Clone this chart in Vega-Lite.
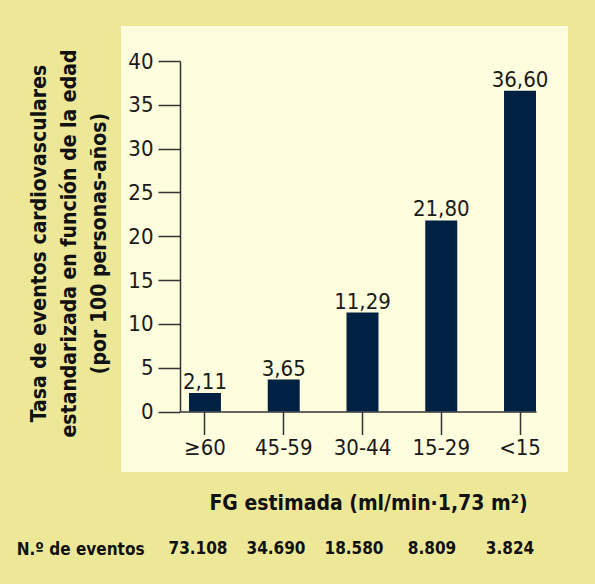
{
  "$schema": "https://vega.github.io/schema/vega-lite/v6.json",
  "width": 447,
  "height": 446,
  "autosize": {"type": "none"},
  "padding": {"left": 121, "top": 26, "right": 27, "bottom": 112},
  "background": "#EDE898",
  "config": {
    "view": {"fill": "#FEFDDD", "stroke": null},
    "font": "DejaVu Sans Condensed",
    "locale": {"number": {"decimal": ",", "thousands": ".", "grouping": [3], "currency": ["", " €"]}}
  },
  "data": {
    "values": [
      {"fg": "≥60", "tasa": 2.11, "eventos": 73108, "fila": "N.º de eventos"},
      {"fg": "45-59", "tasa": 3.65, "eventos": 34690, "fila": "N.º de eventos"},
      {"fg": "30-44", "tasa": 11.29, "eventos": 18580, "fila": "N.º de eventos"},
      {"fg": "15-29", "tasa": 21.80, "eventos": 8809, "fila": "N.º de eventos"},
      {"fg": "<15", "tasa": 36.60, "eventos": 3824, "fila": "N.º de eventos"}
    ]
  },
  "layer": [
    {
      "encoding": {
        "x": {
          "field": "fg", "type": "nominal", "sort": null,
          "scale": {"range": [59, 415], "paddingInner": 0.594, "paddingOuter": 0.057, "align": 1},
          "axis": {
            "orient": "bottom", "offset": -60.5, "labelAngle": 0,
            "domainColor": "#333333", "domainWidth": 1.5, "tickColor": "#333333", "tickWidth": 1.5, "tickSize": 23,
            "labelFontSize": 22, "labelColor": "#1a1a1a", "labelPadding": 3,
            "title": "FG estimada (ml/min·1,73 m²)", "titleFontSize": 21, "titleFontWeight": "bold", "titleColor": "#111111",
            "titleX": 247, "titleY": 98, "titleBaseline": "alphabetic", "titleAlign": "center"
          }
        },
        "y": {
          "field": "tasa", "type": "quantitative",
          "scale": {"domain": [0, 40], "range": [385.5, 35]},
          "axis": {
            "orient": "left", "offset": -59, "values": [0, 5, 10, 15, 20, 25, 30, 35, 40], "grid": false,
            "domainColor": "#333333", "domainWidth": 1.5, "tickColor": "#333333", "tickWidth": 1.5, "tickSize": 22,
            "labelFontSize": 22, "labelColor": "#1a1a1a", "labelPadding": 5,
            "title": ["Tasa de eventos cardiovasculares", "estandarizada en función de la edad", "(por 100 personas-años)"],
            "titleFontSize": 21, "titleFontWeight": "bold", "titleColor": "#111111", "titleLineHeight": 30,
            "titleAngle": -90, "titleX": -135, "titleY": 217, "titleBaseline": "alphabetic", "titleAlign": "center"
          }
        }
      },
      "layer": [
        {"mark": {"type": "bar", "color": "#002142"}},
        {
          "mark": {"type": "text", "baseline": "alphabetic", "dy": -4, "fontSize": 22, "color": "#1a1a1a"},
          "encoding": {"text": {"field": "tasa", "type": "quantitative", "format": ".2f"}}
        }
      ]
    },
    {
      "mark": {"type": "text", "fontSize": 17, "fontWeight": "bold", "color": "#111111", "baseline": "middle"},
      "encoding": {
        "x": {"field": "eventos", "type": "ordinal", "sort": null, "scale": {"type": "point", "range": [77, 389], "padding": 0}, "axis": null},
        "y": {
          "field": "fila", "type": "nominal",
          "scale": {"type": "point", "range": [513, 533]},
          "axis": {"orient": "left", "offset": -23, "domain": false, "ticks": false, "labelPadding": 0, "labelFontSize": 17, "labelFontWeight": "bold", "labelColor": "#111111", "title": null}
        },
        "text": {"field": "eventos", "type": "quantitative", "format": ",d"}
      }
    }
  ],
  "resolve": {"scale": {"x": "independent", "y": "independent"}}
}
